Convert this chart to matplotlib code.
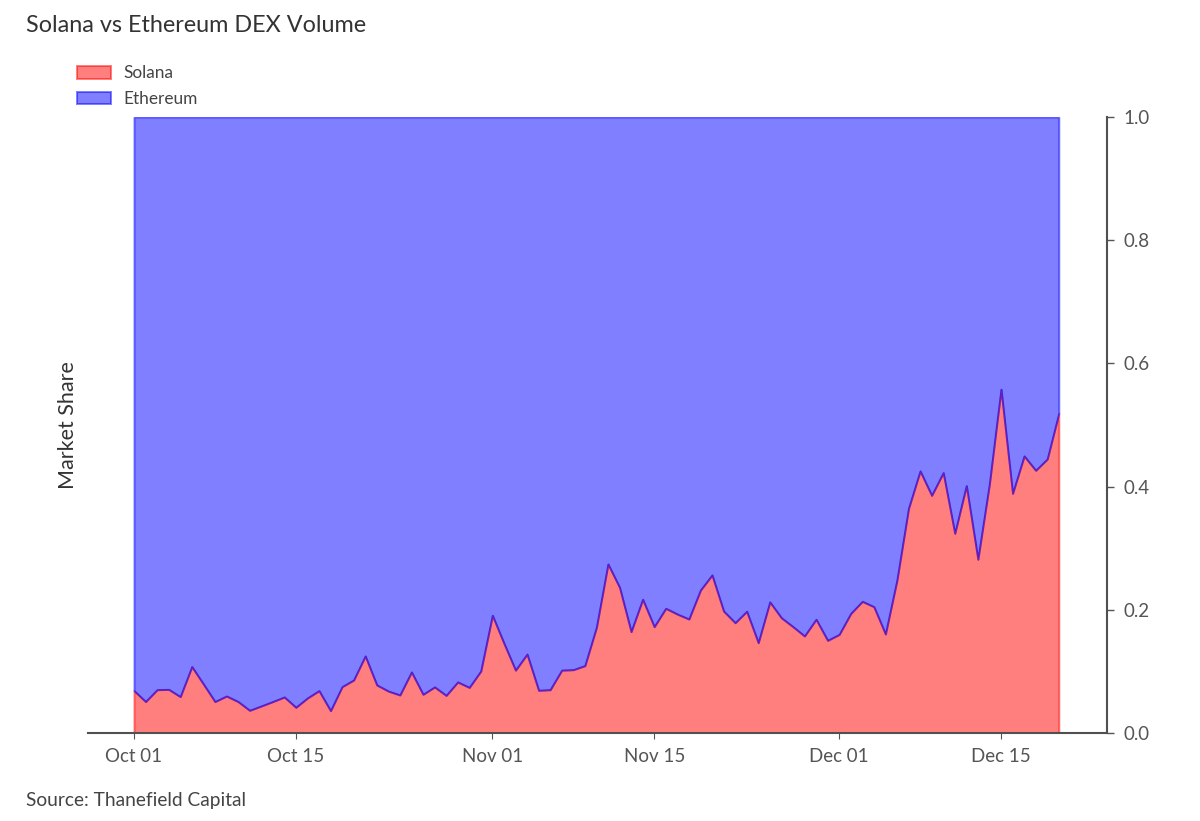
import datetime as dt
import matplotlib
matplotlib.use("Agg")
import matplotlib.pyplot as plt
import matplotlib.dates as mdates

plt.rcParams['font.family'] = ['Lato', 'Open Sans', 'DejaVu Sans']

title = "Solana vs Ethereum DEX Volume"
source = "Source: Thanefield Capital"
ylabel = "Market Share"
series_names = ["Solana", "Ethereum"]
series_colors = ["#ff0000", "#0000ff"]
start_date = dt.date(2023, 10, 1)

solana = [
    .0687, .051, .0703, .0708, .059, .1077, .0795, .051, .060, .051,
    .0368, .0438, .051, .0584, .0417, .0568, .0687, .0362, .0752, .086,
    .125, .078, .068, .0617, .099, .0628, .0747, .061, .0828, .074,
    .1006, .191, .1456, .102, .128, .0693, .0703, .102, .1028, .1093,
    .1715, .2743, .2365, .1645, .217, .1726, .2024, .193, .185, .232,
    .2565, .198, .179, .1975, .1466, .2127, .187, .1726, .1575, .1845,
    .1504, .160, .194, .2137, .205, .1607, .2484, .3647, .4253, .3858,
    .4226, .3241, .4015, .282, .405, .558, .389, .4497, .4264, .4448,
    .519,
]
ethereum = [1 - v for v in solana]
dates = [start_date + dt.timedelta(days=i) for i in range(len(solana))]
tick_dates = [dt.date(2023, 10, 1), dt.date(2023, 10, 15), dt.date(2023, 11, 1),
              dt.date(2023, 11, 15), dt.date(2023, 12, 1), dt.date(2023, 12, 15)]
y_ticks = [0.0, 0.2, 0.4, 0.6, 0.8, 1.0]

fig = plt.figure(figsize=(12, 8.21), dpi=100)
ax = fig.add_axes([88 / 1200, 1 - 733 / 821, (1107 - 88) / 1200, (733 - 117) / 821])

polys = ax.stackplot(dates, solana, ethereum, colors=series_colors,
                     alpha=0.5, labels=series_names)
for poly, color in zip(polys, series_colors):
    poly.set_edgecolor(color)
    poly.set_linewidth(1.4)

d0 = mdates.date2num(start_date)
ax.set_xlim(d0 - 46 / 11.56, d0 + (1107 - 134) / 11.56)
ax.set_ylim(0, 1)
ax.xaxis.set_major_formatter(mdates.DateFormatter("%b %d"))
ax.set_xticks([mdates.date2num(d) for d in tick_dates])
ax.set_yticks(y_ticks)
ax.set_yticklabels([f"{v:.1f}" for v in y_ticks])
ax.yaxis.tick_right()
ax.tick_params(axis='x', length=4, width=0.8, color="#555555", labelcolor="#555555",
               labelsize=13.5, pad=7)
ax.tick_params(axis='y', length=5, width=1.0, color="#555555", labelcolor="#555555",
               labelsize=13.5, pad=7)
for side in ("left", "top"):
    ax.spines[side].set_visible(False)
for side in ("right", "bottom"):
    ax.spines[side].set_color("#505050")
    ax.spines[side].set_linewidth(1.5)

fig.text(68 / 1200, 1 - 425 / 821, ylabel, rotation=90, ha='center', va='center',
         fontsize=15.5, color="#333333")
fig.text(26 / 1200, 1 - 26 / 821, title, ha='left', va='center', fontsize=16.8, color="#333333")
fig.text(26 / 1200, 1 - 800 / 821, source, ha='left', va='center', fontsize=13.8, color="#444444")

leg = ax.legend(loc='lower left', bbox_to_anchor=(77 / 1200, 1 - 107 / 821),
                bbox_transform=fig.transFigure, frameon=False, fontsize=12.4,
                handlelength=2.0, handleheight=0.75, handletextpad=0.7,
                labelspacing=0.56, borderpad=0, borderaxespad=0, labelcolor="#444444")

fig.savefig("out.png", dpi=100)
